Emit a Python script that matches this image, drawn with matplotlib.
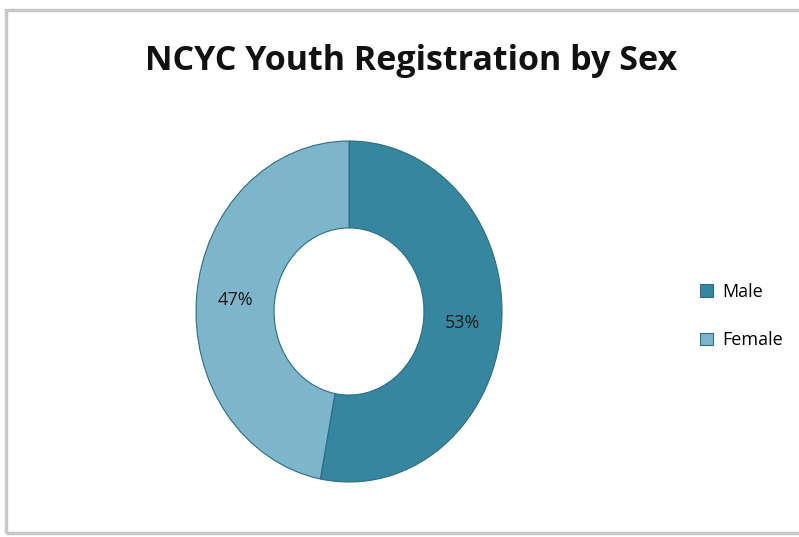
import matplotlib.pyplot as plt
from matplotlib.patches import Rectangle

labels = ['Male', 'Female']
shares = [53, 47]
colors = ['#35869e', '#7db5cb']

W, H = 799, 537
fig = plt.figure(figsize=(W / 100, H / 100), dpi=100)

# grey frame of the chart area
fig.patches.append(Rectangle((6 / W, 4 / H), 1.2, (533 - 4 - 6) / H, transform=fig.transFigure,
                             fill=False, edgecolor='#c8c8c8', linewidth=2.5))

fig.text(411 / W, 1 - 61 / H, 'NCYC Youth Registration by Sex', ha='center', va='center',
         fontsize=24.5, fontweight='bold', family='Open Sans', color='#111111')

# donut is slightly taller than wide in the reference
ax = fig.add_axes([196 / W, 1 - 482 / H, (502 - 196) / W, (482 - 141) / H])
wedges, _, autotexts = ax.pie(shares, colors=colors, startangle=90, counterclock=False,
                              autopct='%1.0f%%', pctdistance=0.745,
                              wedgeprops=dict(width=0.51, edgecolor='#2d6e80', linewidth=0.8),
                              textprops=dict(fontsize=13, color='#1a1a1a', family='Open Sans'))
ax.set_aspect('auto')
ax.set_xlim(-1, 1)
ax.set_ylim(-1, 1)

fig.legend(wedges, labels, loc='center left', bbox_to_anchor=(684 / W, 1 - 316 / H),
           frameon=False, prop=dict(family='Open Sans', size=13), handlelength=0.7,
           handleheight=0.7, labelspacing=1.7, handletextpad=0.5)

fig.savefig('out.png', dpi=100)
